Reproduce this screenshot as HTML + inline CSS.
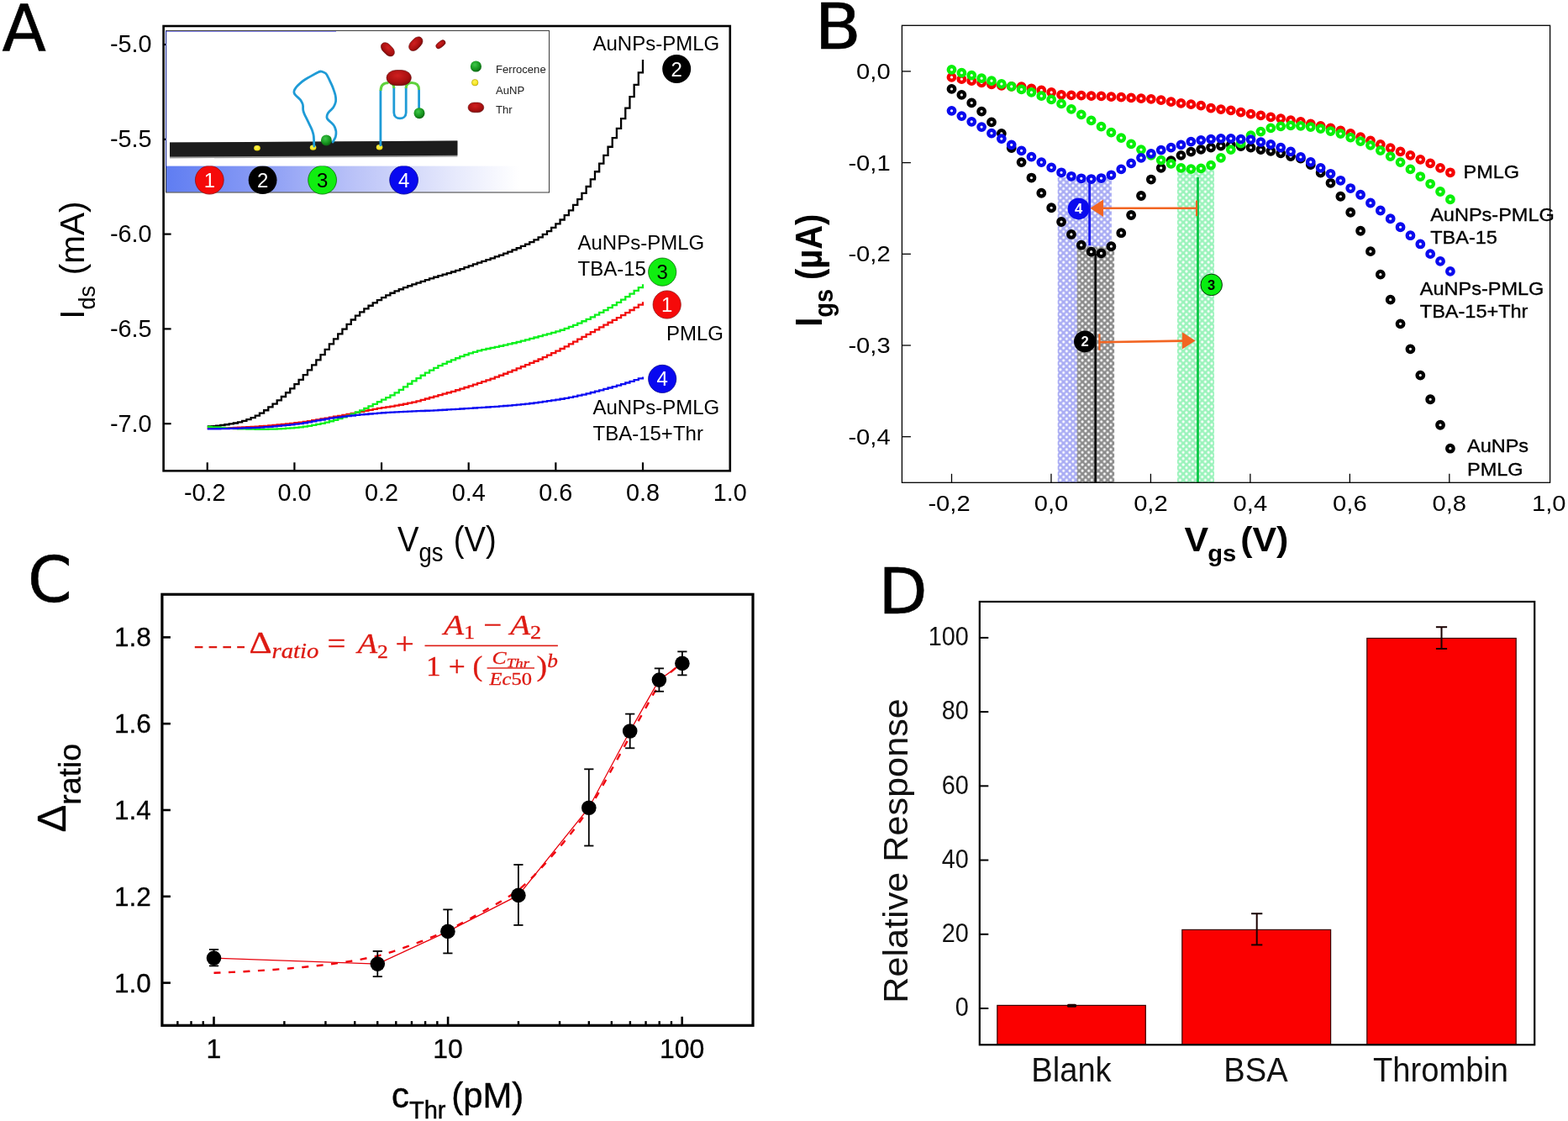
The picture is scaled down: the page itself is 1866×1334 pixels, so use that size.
<!DOCTYPE html>
<html lang="en"><head><meta charset="utf-8"><title>Figure</title>
<style>
html,body{margin:0;padding:0;background:#fff;}
body{width:1866px;height:1334px;overflow:hidden;}
svg{display:block;}
text{white-space:pre;}
</style></head><body>
<svg width="1866" height="1334" viewBox="0 0 1866 1334">
<defs>
<linearGradient id="gband" x1="0" y1="0" x2="1" y2="0"><stop offset="0" stop-color="#5f7df2"/><stop offset="0.25" stop-color="#8a9cf5"/><stop offset="0.5" stop-color="#bcc4f8"/><stop offset="0.75" stop-color="#e6e9fc"/><stop offset="0.92" stop-color="#ffffff"/></linearGradient>
<radialGradient id="gsph" cx="0.4" cy="0.35" r="0.7"><stop offset="0" stop-color="#3fc84a"/><stop offset="0.6" stop-color="#17961f"/><stop offset="1" stop-color="#0b5e12"/></radialGradient>
<radialGradient id="gthr" cx="0.45" cy="0.35" r="0.75"><stop offset="0" stop-color="#d02020"/><stop offset="0.6" stop-color="#a81010"/><stop offset="1" stop-color="#6e0808"/></radialGradient>
<radialGradient id="gau" cx="0.45" cy="0.4" r="0.7"><stop offset="0" stop-color="#fff35a"/><stop offset="0.7" stop-color="#f2e21a"/><stop offset="1" stop-color="#b8a800"/></radialGradient>
<clipPath id="cband"><rect x="197" y="197.6" width="460" height="40"/></clipPath>
<pattern id="hb" width="7.5" height="7.3" patternUnits="userSpaceOnUse"><rect width="7.5" height="7.3" fill="#a9acf4"/><circle cx="1.9" cy="1.8" r="1.55" fill="#fff"/><circle cx="5.65" cy="5.45" r="1.55" fill="#fff"/></pattern>
<pattern id="hk" width="7.5" height="7.3" patternUnits="userSpaceOnUse"><rect width="7.5" height="7.3" fill="#8c8c8c"/><circle cx="1.9" cy="1.8" r="1.55" fill="#fff"/><circle cx="5.65" cy="5.45" r="1.55" fill="#fff"/></pattern>
<pattern id="hg" width="7.5" height="7.3" patternUnits="userSpaceOnUse"><rect width="7.5" height="7.3" fill="#9af3bb"/><circle cx="1.9" cy="1.8" r="1.55" fill="#fff"/><circle cx="5.65" cy="5.45" r="1.55" fill="#fff"/></pattern>
</defs>
<rect x="0" y="0" width="1866" height="1334" fill="#ffffff"/>
<g id="panelA">
<text transform="translate(2.5 60.4)" font-family='"DejaVu Sans", "Liberation Sans", sans-serif' font-size="76.5" text-anchor="start" font-weight="normal" font-style="normal" fill="#000" stroke="#000" stroke-width="0.6">A</text>
<path d="M246.75 507.3H251.93V507.09H257.11V506.64H262.3V506.02H267.48V505.27H272.66V504.44H277.84V503.51H283.03V502.3H288.21V500.8H293.39V499.04H298.57V497.06H303.76V494.71H308.94V491.71H314.12V488.24H319.3V484.46H324.49V480.56H329.67V476.47H334.85V472.01H340.03V467.27H345.22V462.31H350.4V457.2H355.58V451.84H360.76V446.19H365.95V440.35H371.13V434.4H376.31V428.41H381.5V422.19H386.68V415.82H391.86V409.47H397.04V403.31H402.22V397.45H407.41V391.61H412.59V385.9H417.77V380.51H422.95V375.62H428.14V371.32H433.32V367.38H438.5V363.74H443.68V360.34H448.87V357.14H454.05V354.11H459.23V351.29H464.41V348.73H469.6V346.42H474.78V344.25H479.96V342.2H485.14V340.25H490.33V338.38H495.51V336.57H500.69V334.8H505.88V333.04H511.06V331.34H516.24V329.74H521.42V328.18H526.61V326.65H531.79V325.1H536.97V323.5H542.15V321.82H547.33V320.04H552.52V318.2H557.7V316.33H562.88V314.47H568.06V312.65H573.25V310.87H578.43V309.11H583.61V307.32H588.79V305.47H593.98V303.55H599.16V301.58H604.34V299.55H609.52V297.44H614.71V295.23H619.89V292.92H625.07V290.55H630.25V288.04H635.44V285.32H640.62V282.31H645.8V278.91H650.99V275.1H656.17V270.9H661.35V266.36H666.53V261.49H671.72V256.17H676.9V250.31H682.08V243.97H687.26V237.18H692.44V229.95H697.63V222.01H702.81V213.38H707.99V204.24H713.17V194.72H718.36V184.94H723.54V174.75H728.72V164.08H733.9V152.9H739.09V141.17H744.27V128.66H749.45V115.08H754.63V100.95H759.82V86.29H765V71" fill="none" stroke="#000000" stroke-width="2.3" stroke-linejoin="miter"/>
<path d="M246.75 509.8H251.93V509.73H257.11V509.61H262.3V509.47H267.48V509.3H272.66V509.1H277.84V508.89H283.03V508.65H288.21V508.4H293.39V508.13H298.57V507.86H303.76V507.57H308.94V507.23H314.12V506.84H319.3V506.42H324.49V505.96H329.67V505.46H334.85V504.94H340.03V504.38H345.22V503.81H350.4V503.22H355.58V502.57H360.76V501.85H365.95V501.08H371.13V500.25H376.31V499.38H381.5V498.49H386.68V497.58H391.86V496.66H397.04V495.75H402.22V494.84H407.41V493.88H412.59V492.89H417.77V491.87H422.95V490.83H428.14V489.8H433.32V488.77H438.5V487.78H443.68V486.82H448.87V485.92H454.05V485.1H459.23V484.35H464.41V483.56H469.6V482.68H474.78V481.74H479.96V480.74H485.14V479.68H490.33V478.55H495.51V477.31H500.69V475.93H505.88V474.48H511.06V472.99H516.24V471.53H521.42V470.11H526.61V468.69H531.79V467.26H536.97V465.78H542.15V464.25H547.33V462.66H552.52V461.02H557.7V459.34H562.88V457.64H568.06V455.91H573.25V454.17H578.43V452.4H583.61V450.58H588.79V448.72H593.98V446.77H599.16V444.75H604.34V442.66H609.52V440.53H614.71V438.39H619.89V436.26H625.07V434.13H630.25V431.97H635.44V429.76H640.62V427.48H645.8V425.12H650.99V422.7H656.17V420.21H661.35V417.65H666.53V415.02H671.72V412.28H676.9V409.44H682.08V406.55H687.26V403.65H692.44V400.8H697.63V397.96H702.81V395.13H707.99V392.29H713.17V389.45H718.36V386.6H723.54V383.77H728.72V380.94H733.9V378.07H739.09V375.13H744.27V372.11H749.45V369.01H754.63V365.85H759.82V362.62H765V359.33" fill="none" stroke="#f20d0d" stroke-width="2.3" stroke-linejoin="miter"/>
<path d="M246.75 507.79H251.93V508.31H257.11V508.77H262.3V509.18H267.48V509.53H272.66V509.83H277.84V510.09H283.03V510.3H288.21V510.47H293.39V510.61H298.57V510.7H303.76V510.76H308.94V510.8H314.12V510.79H319.3V510.71H324.49V510.55H329.67V510.31H334.85V510.03H340.03V509.69H345.22V509.33H350.4V508.95H355.58V508.42H360.76V507.71H365.95V506.87H371.13V505.94H376.31V504.97H381.5V503.86H386.68V502.61H391.86V501.23H397.04V499.76H402.22V498.19H407.41V496.46H412.59V494.58H417.77V492.58H422.95V490.48H428.14V488.28H433.32V485.91H438.5V483.41H443.68V480.85H448.87V478.26H454.05V475.72H459.23V473.14H464.41V470.39H469.6V467.34H474.78V463.94H479.96V460.36H485.14V456.77H490.33V453.33H495.51V450.04H500.69V446.77H505.88V443.59H511.06V440.56H516.24V437.78H521.42V435.21H526.61V432.78H531.79V430.49H536.97V428.32H542.15V426.25H547.33V424.22H552.52V422.27H557.7V420.44H562.88V418.79H568.06V417.36H573.25V416.13H578.43V415.02H583.61V413.96H588.79V412.88H593.98V411.73H599.16V410.58H604.34V409.42H609.52V408.23H614.71V406.99H619.89V405.69H625.07V404.32H630.25V402.91H635.44V401.48H640.62V400.05H645.8V398.66H650.99V397.29H656.17V395.89H661.35V394.4H666.53V392.76H671.72V390.92H676.9V388.93H682.08V386.79H687.26V384.56H692.44V382.26H697.63V379.85H702.81V377.31H707.99V374.67H713.17V371.92H718.36V369.09H723.54V366.13H728.72V363.05H733.9V359.85H739.09V356.55H744.27V353.13H749.45V349.58H754.63V345.89H759.82V342.08H765V338.15" fill="none" stroke="#0cf01c" stroke-width="2.3" stroke-linejoin="miter"/>
<path d="M246.75 510.3H251.93V510.28H257.11V510.23H262.3V510.15H267.48V510.05H272.66V509.92H277.84V509.77H283.03V509.6H288.21V509.43H293.39V509.24H298.57V509.04H303.76V508.82H308.94V508.54H314.12V508.2H319.3V507.81H324.49V507.37H329.67V506.9H334.85V506.39H340.03V505.85H345.22V505.29H350.4V504.72H355.58V504.05H360.76V503.26H365.95V502.38H371.13V501.44H376.31V500.47H381.5V499.5H386.68V498.57H391.86V497.7H397.04V496.93H402.22V496.28H407.41V495.66H412.59V495.07H417.77V494.51H422.95V493.97H428.14V493.46H433.32V492.98H438.5V492.51H443.68V492.07H448.87V491.66H454.05V491.27H459.23V490.91H464.41V490.59H469.6V490.31H474.78V490.06H479.96V489.82H485.14V489.61H490.33V489.4H495.51V489.2H500.69V488.99H505.88V488.77H511.06V488.54H516.24V488.29H521.42V488.02H526.61V487.74H531.79V487.44H536.97V487.14H542.15V486.83H547.33V486.51H552.52V486.18H557.7V485.85H562.88V485.51H568.06V485.16H573.25V484.82H578.43V484.48H583.61V484.13H588.79V483.78H593.98V483.41H599.16V483.02H604.34V482.61H609.52V482.18H614.71V481.71H619.89V481.2H625.07V480.62H630.25V479.98H635.44V479.31H640.62V478.62H645.8V477.93H650.99V477.2H656.17V476.44H661.35V475.63H666.53V474.77H671.72V473.84H676.9V472.85H682.08V471.79H687.26V470.68H692.44V469.53H697.63V468.3H702.81V467.01H707.99V465.67H713.17V464.3H718.36V462.92H723.54V461.52H728.72V460.09H733.9V458.62H739.09V457.09H744.27V455.49H749.45V453.83H754.63V452.1H759.82V450.32H765V448.47" fill="none" stroke="#0d0df2" stroke-width="2.3" stroke-linejoin="miter"/>
<rect x="194.6" y="31" width="674.2" height="529.3" fill="none" stroke="#000" stroke-width="2.6" />
<line x1="194.6" y1="53" x2="203.6" y2="53" stroke="#000" stroke-width="2.2" />
<text transform="translate(180.6 62.3)" font-family='"Liberation Sans", Arial, Helvetica, sans-serif' font-size="28.8" text-anchor="end" font-weight="normal" font-style="normal" fill="#000" >-5.0</text>
<line x1="194.6" y1="165.8" x2="203.6" y2="165.8" stroke="#000" stroke-width="2.2" />
<text transform="translate(180.6 175.1)" font-family='"Liberation Sans", Arial, Helvetica, sans-serif' font-size="28.8" text-anchor="end" font-weight="normal" font-style="normal" fill="#000" >-5.5</text>
<line x1="194.6" y1="278.6" x2="203.6" y2="278.6" stroke="#000" stroke-width="2.2" />
<text transform="translate(180.6 287.9)" font-family='"Liberation Sans", Arial, Helvetica, sans-serif' font-size="28.8" text-anchor="end" font-weight="normal" font-style="normal" fill="#000" >-6.0</text>
<line x1="194.6" y1="391.4" x2="203.6" y2="391.4" stroke="#000" stroke-width="2.2" />
<text transform="translate(180.6 400.7)" font-family='"Liberation Sans", Arial, Helvetica, sans-serif' font-size="28.8" text-anchor="end" font-weight="normal" font-style="normal" fill="#000" >-6.5</text>
<line x1="194.6" y1="504.2" x2="203.6" y2="504.2" stroke="#000" stroke-width="2.2" />
<text transform="translate(180.6 513.5)" font-family='"Liberation Sans", Arial, Helvetica, sans-serif' font-size="28.8" text-anchor="end" font-weight="normal" font-style="normal" fill="#000" >-7.0</text>
<line x1="246.75" y1="560.3" x2="246.75" y2="550.3" stroke="#000" stroke-width="2.2" />
<text transform="translate(243.75 595.6)" font-family='"Liberation Sans", Arial, Helvetica, sans-serif' font-size="28.8" text-anchor="middle" font-weight="normal" font-style="normal" fill="#000" >-0.2</text>
<line x1="350.4" y1="560.3" x2="350.4" y2="550.3" stroke="#000" stroke-width="2.2" />
<text transform="translate(350.4 595.6)" font-family='"Liberation Sans", Arial, Helvetica, sans-serif' font-size="28.8" text-anchor="middle" font-weight="normal" font-style="normal" fill="#000" >0.0</text>
<line x1="454.05" y1="560.3" x2="454.05" y2="550.3" stroke="#000" stroke-width="2.2" />
<text transform="translate(454.05 595.6)" font-family='"Liberation Sans", Arial, Helvetica, sans-serif' font-size="28.8" text-anchor="middle" font-weight="normal" font-style="normal" fill="#000" >0.2</text>
<line x1="557.7" y1="560.3" x2="557.7" y2="550.3" stroke="#000" stroke-width="2.2" />
<text transform="translate(557.7 595.6)" font-family='"Liberation Sans", Arial, Helvetica, sans-serif' font-size="28.8" text-anchor="middle" font-weight="normal" font-style="normal" fill="#000" >0.4</text>
<line x1="661.35" y1="560.3" x2="661.35" y2="550.3" stroke="#000" stroke-width="2.2" />
<text transform="translate(661.35 595.6)" font-family='"Liberation Sans", Arial, Helvetica, sans-serif' font-size="28.8" text-anchor="middle" font-weight="normal" font-style="normal" fill="#000" >0.6</text>
<line x1="765" y1="560.3" x2="765" y2="550.3" stroke="#000" stroke-width="2.2" />
<text transform="translate(765 595.6)" font-family='"Liberation Sans", Arial, Helvetica, sans-serif' font-size="28.8" text-anchor="middle" font-weight="normal" font-style="normal" fill="#000" >0.8</text>
<text transform="translate(868.65 595.6)" font-family='"Liberation Sans", Arial, Helvetica, sans-serif' font-size="28.8" text-anchor="middle" font-weight="normal" font-style="normal" fill="#000" >1.0</text>
<text transform="translate(473 655.8) scale(0.885 1)" font-family='"Liberation Sans", Arial, Helvetica, sans-serif' font-size="43.2" fill="#000">V<tspan font-size="31" dy="12.5">gs</tspan><tspan dy="-12.5" dx="2"> (V)</tspan></text>
<text transform="translate(100.3 379.8) rotate(-90)" font-family='"Liberation Sans", Arial, Helvetica, sans-serif' font-size="40.5" fill="#000">I<tspan font-size="27" dy="13">ds</tspan><tspan dy="-13" dx="1.5"> (mA)</tspan></text>
<text transform="translate(705.5 60)" font-family='"Liberation Sans", Arial, Helvetica, sans-serif' font-size="24" text-anchor="start" font-weight="normal" font-style="normal" fill="#000" >AuNPs-PMLG</text>
<text transform="translate(687.5 297.3)" font-family='"Liberation Sans", Arial, Helvetica, sans-serif' font-size="24" text-anchor="start" font-weight="normal" font-style="normal" fill="#000" >AuNPs-PMLG</text>
<text transform="translate(687.5 327.8)" font-family='"Liberation Sans", Arial, Helvetica, sans-serif' font-size="24" text-anchor="start" font-weight="normal" font-style="normal" fill="#000" >TBA-15</text>
<text transform="translate(793 405)" font-family='"Liberation Sans", Arial, Helvetica, sans-serif' font-size="24" text-anchor="start" font-weight="normal" font-style="normal" fill="#000" >PMLG</text>
<text transform="translate(705.5 492.8)" font-family='"Liberation Sans", Arial, Helvetica, sans-serif' font-size="24" text-anchor="start" font-weight="normal" font-style="normal" fill="#000" >AuNPs-PMLG</text>
<text transform="translate(705.5 524)" font-family='"Liberation Sans", Arial, Helvetica, sans-serif' font-size="24" text-anchor="start" font-weight="normal" font-style="normal" fill="#000" >TBA-15+Thr</text>
<circle cx="805.2" cy="82" r="17" fill="#000000" stroke="none" stroke-width="1" />
<text transform="translate(805.2 90.52)" font-family='"Liberation Sans", Arial, Helvetica, sans-serif' font-size="24" text-anchor="middle" font-weight="normal" font-style="normal" fill="#fff" >2</text>
<circle cx="788.2" cy="323.6" r="16.6" fill="#10ee10" stroke="#0a6a0a" stroke-width="0.8" />
<text transform="translate(788.2 332.12)" font-family='"Liberation Sans", Arial, Helvetica, sans-serif' font-size="24" text-anchor="middle" font-weight="normal" font-style="normal" fill="#000" >3</text>
<circle cx="793.7" cy="362.5" r="16.6" fill="#f50a0a" stroke="#901010" stroke-width="0.8" />
<text transform="translate(793.7 371.02)" font-family='"Liberation Sans", Arial, Helvetica, sans-serif' font-size="24" text-anchor="middle" font-weight="normal" font-style="normal" fill="#fff" >1</text>
<circle cx="788.2" cy="450.9" r="16.6" fill="#0808f0" stroke="#0a0a90" stroke-width="0.8" />
<text transform="translate(788.2 459.42)" font-family='"Liberation Sans", Arial, Helvetica, sans-serif' font-size="24" text-anchor="middle" font-weight="normal" font-style="normal" fill="#fff" >4</text>
<rect x="197.6" y="36.6" width="456" height="192.4" fill="#ffffff" stroke="none" stroke-width="1" />
<rect x="197.6" y="197.6" width="456" height="31" fill="url(#gband)" stroke="none" stroke-width="1" />
<rect x="197.6" y="36.6" width="456" height="192.4" fill="none" stroke="#222" stroke-width="0.9" />
<line x1="197.6" y1="37.5" x2="400" y2="37.5" stroke="#8a8af0" stroke-width="1" />
<line x1="197.6" y1="36.6" x2="197.6" y2="200" stroke="#2233aa" stroke-width="1" />
<path d="M202 169.6 L544.4 167.6 L544.4 186.6 L202 188.4 Z" fill="#9a9a9a" stroke="none" stroke-width="1" />
<path d="M202 169.6 L544.4 167.6 L544.4 184.8 L202 186.6 Z" fill="#1c1c1c" stroke="none" stroke-width="1" />
<ellipse cx="306" cy="176.2" rx="3.8" ry="3.2" fill="url(#gau)"/>
<ellipse cx="372.6" cy="175.6" rx="3.8" ry="3.2" fill="url(#gau)"/>
<ellipse cx="451.6" cy="175.2" rx="3.8" ry="3.2" fill="url(#gau)"/>
<path d="M373.8 174 L373.53 165.57 Q373.4 161.6 372.73 159.23 L371.97 156.57 Q371.3 154.2 369.99 151.54 L368.51 148.56 Q367.2 145.9 365.63 142.73 L363.87 139.17 Q362.3 136 361.76 134.43 L361.14 132.67 Q360.6 131.1 360.6 128.99 L360.6 126.61 Q360.6 124.5 359.67 122.64 L358.63 120.56 Q357.7 118.7 355.33 116.59 L352.67 114.21 Q350.3 112.1 350.11 110.79 L349.89 109.31 Q349.7 108 350.95 106.14 L352.35 104.06 Q353.6 102.2 356.38 99.83 L359.52 97.17 Q362.3 94.8 365.72 92.94 L369.58 90.86 Q373 89 375.62 87.56 L378.58 85.94 Q381.2 84.5 383.31 85.3 L385.69 86.2 Q387.8 87 388.86 88.95 L390.04 91.15 Q391.1 93.1 392.7 96.56 L394.5 100.44 Q396.1 103.9 397.16 107.07 L398.34 110.63 Q399.4 113.8 399.53 116.17 L399.67 118.83 Q399.8 121.2 398.87 123.31 L397.83 125.69 Q396.9 127.8 394.53 130.17 L391.87 132.83 Q389.5 135.2 389.24 137.06 L388.96 139.14 Q388.7 141 391.58 143.62 L394.82 146.58 Q397.7 149.2 398.5 151.57 L399.4 154.23 Q400.2 156.6 399.94 158.71 L399.66 161.09 Q399.4 163.2 398.34 165.06 L396.1 169" fill="none" stroke="#1f9bd6" stroke-width="2.8" stroke-linejoin="round" stroke-linecap="round"/>
<circle cx="388.4" cy="166.9" r="6.5" fill="url(#gsph)" stroke="none" stroke-width="1" />
<path d="M452.9 174 V107.5" fill="none" stroke="#1f9bd6" stroke-width="2.8" />
<path d="M453 108 C453 101 457 98.6 462.5 98.6" fill="none" stroke="#5fd23c" stroke-width="3" />
<path d="M468.8 104 V134 C468.8 143.2 483.2 143.2 483.2 134 V104" fill="none" stroke="#1f9bd6" stroke-width="2.8" />
<path d="M464 98.8 C467.2 99 468.8 101.5 468.8 105" fill="none" stroke="#5fd23c" stroke-width="3" />
<path d="M483.2 105 C483.2 100.5 485.5 98.4 490 98.4 C496 98.4 498.6 101.5 498.6 107" fill="none" stroke="#5fd23c" stroke-width="3" />
<path d="M498.6 107 V130" fill="none" stroke="#1f9bd6" stroke-width="2.8" />
<circle cx="499" cy="134.7" r="6.5" fill="url(#gsph)" stroke="none" stroke-width="1" />
<rect x="460" y="83.5" width="29.4" height="18.2" rx="11.5" ry="9.1" fill="url(#gthr)" stroke="#5a0606" stroke-width="0.6"/>
<rect x="-9.6" y="-5.5" width="19.2" height="11" rx="7.2" ry="5.5" transform="translate(461.4 58.8) rotate(46)" fill="url(#gthr)" stroke="#5a0606" stroke-width="0.5"/>
<rect x="-9.8" y="-5.7" width="19.6" height="11.4" rx="7.4" ry="5.7" transform="translate(494.8 52.2) rotate(-46)" fill="url(#gthr)" stroke="#5a0606" stroke-width="0.5"/>
<rect x="-6.4" y="-3.3" width="12.8" height="6.6" rx="4.6" ry="3.3" transform="translate(524.4 52.8) rotate(-38)" fill="url(#gthr)" stroke="#5a0606" stroke-width="0.5"/>
<circle cx="566.4" cy="79" r="6.6" fill="url(#gsph)" stroke="none" stroke-width="1" />
<circle cx="565.2" cy="98.2" r="3.8" fill="url(#gau)" stroke="#a09000" stroke-width="0.5" />
<rect x="557" y="122" width="18.8" height="11.8" rx="7" ry="5.9" fill="url(#gthr)" stroke="#5a0606" stroke-width="0.5"/>
<text transform="translate(590 87.4)" font-family='"Liberation Sans", Arial, Helvetica, sans-serif' font-size="13.1" text-anchor="start" font-weight="normal" font-style="normal" fill="#222" >Ferrocene</text>
<text transform="translate(590 111.8)" font-family='"Liberation Sans", Arial, Helvetica, sans-serif' font-size="13.1" text-anchor="start" font-weight="normal" font-style="normal" fill="#222" >AuNP</text>
<text transform="translate(590 135.4)" font-family='"Liberation Sans", Arial, Helvetica, sans-serif' font-size="13.1" text-anchor="start" font-weight="normal" font-style="normal" fill="#222" >Thr</text>
<g clip-path="url(#cband)">
<circle cx="249.3" cy="214.2" r="16.9" fill="#f50a0a" stroke="#901010" stroke-width="0.8" />
<text transform="translate(249.3 222.72)" font-family='"Liberation Sans", Arial, Helvetica, sans-serif' font-size="24" text-anchor="middle" font-weight="normal" font-style="normal" fill="#fff" >1</text>
<circle cx="312.6" cy="214.2" r="16.9" fill="#000000" stroke="none" stroke-width="1" />
<text transform="translate(312.6 222.72)" font-family='"Liberation Sans", Arial, Helvetica, sans-serif' font-size="24" text-anchor="middle" font-weight="normal" font-style="normal" fill="#fff" >2</text>
<circle cx="383.6" cy="214.2" r="16.9" fill="#10ee10" stroke="#0a6a0a" stroke-width="0.8" />
<text transform="translate(383.6 222.72)" font-family='"Liberation Sans", Arial, Helvetica, sans-serif' font-size="24" text-anchor="middle" font-weight="normal" font-style="normal" fill="#000" >3</text>
<circle cx="480.6" cy="214.2" r="16.9" fill="#0808f0" stroke="#0a0a90" stroke-width="0.8" />
<text transform="translate(480.6 222.72)" font-family='"Liberation Sans", Arial, Helvetica, sans-serif' font-size="24" text-anchor="middle" font-weight="normal" font-style="normal" fill="#fff" >4</text>
</g>
</g>
<g id="panelB">
<text transform="translate(969.5 57.6) scale(1.07 1)" font-family='"DejaVu Sans", "Liberation Sans", sans-serif' font-size="75.5" text-anchor="start" font-weight="normal" font-style="normal" fill="#000" stroke="#000" stroke-width="0.6">B</text>
<rect x="1258.7" y="211" width="64.2" height="363.3" fill="url(#hb)" stroke="none" stroke-width="1" />
<rect x="1281.6" y="293.5" width="44.5" height="280.8" fill="url(#hk)" stroke="none" stroke-width="1" />
<rect x="1401" y="200" width="44" height="374.3" fill="url(#hg)" stroke="none" stroke-width="1" />
<line x1="1296.6" y1="217" x2="1296.6" y2="292" stroke="#1a1aee" stroke-width="2.8" />
<line x1="1303.6" y1="302" x2="1303.6" y2="574.3" stroke="#000" stroke-width="2.5" />
<line x1="1425.5" y1="211" x2="1425.5" y2="574.3" stroke="#0ac846" stroke-width="2.8" />
<circle cx="1132.5" cy="91.91" r="3.75" fill="#fff" stroke="#f50000" stroke-width="4.3" />
<circle cx="1144.37" cy="94.16" r="3.75" fill="#fff" stroke="#f50000" stroke-width="4.3" />
<circle cx="1156.24" cy="96.15" r="3.75" fill="#fff" stroke="#f50000" stroke-width="4.3" />
<circle cx="1168.1" cy="98.4" r="3.75" fill="#fff" stroke="#f50000" stroke-width="4.3" />
<circle cx="1179.97" cy="100.4" r="3.75" fill="#fff" stroke="#f50000" stroke-width="4.3" />
<circle cx="1191.84" cy="101.9" r="3.75" fill="#fff" stroke="#f50000" stroke-width="4.3" />
<circle cx="1203.71" cy="102.9" r="3.75" fill="#fff" stroke="#f50000" stroke-width="4.3" />
<circle cx="1215.58" cy="103.15" r="3.75" fill="#fff" stroke="#f50000" stroke-width="4.3" />
<circle cx="1227.44" cy="105.39" r="3.75" fill="#fff" stroke="#f50000" stroke-width="4.3" />
<circle cx="1239.31" cy="107.39" r="3.75" fill="#fff" stroke="#f50000" stroke-width="4.3" />
<circle cx="1251.18" cy="109.89" r="3.75" fill="#fff" stroke="#f50000" stroke-width="4.3" />
<circle cx="1263.05" cy="112.89" r="3.75" fill="#fff" stroke="#f50000" stroke-width="4.3" />
<circle cx="1274.92" cy="113.39" r="3.75" fill="#fff" stroke="#f50000" stroke-width="4.3" />
<circle cx="1286.78" cy="113.64" r="3.75" fill="#fff" stroke="#f50000" stroke-width="4.3" />
<circle cx="1298.65" cy="114.14" r="3.75" fill="#fff" stroke="#f50000" stroke-width="4.3" />
<circle cx="1310.52" cy="114.39" r="3.75" fill="#fff" stroke="#f50000" stroke-width="4.3" />
<circle cx="1322.39" cy="115.13" r="3.75" fill="#fff" stroke="#f50000" stroke-width="4.3" />
<circle cx="1334.26" cy="115.63" r="3.75" fill="#fff" stroke="#f50000" stroke-width="4.3" />
<circle cx="1346.12" cy="116.38" r="3.75" fill="#fff" stroke="#f50000" stroke-width="4.3" />
<circle cx="1357.99" cy="117.13" r="3.75" fill="#fff" stroke="#f50000" stroke-width="4.3" />
<circle cx="1369.86" cy="117.88" r="3.75" fill="#fff" stroke="#f50000" stroke-width="4.3" />
<circle cx="1381.73" cy="119.13" r="3.75" fill="#fff" stroke="#f50000" stroke-width="4.3" />
<circle cx="1393.6" cy="121.13" r="3.75" fill="#fff" stroke="#f50000" stroke-width="4.3" />
<circle cx="1405.46" cy="122.88" r="3.75" fill="#fff" stroke="#f50000" stroke-width="4.3" />
<circle cx="1417.33" cy="124.13" r="3.75" fill="#fff" stroke="#f50000" stroke-width="4.3" />
<circle cx="1429.2" cy="125.62" r="3.75" fill="#fff" stroke="#f50000" stroke-width="4.3" />
<circle cx="1441.07" cy="128.62" r="3.75" fill="#fff" stroke="#f50000" stroke-width="4.3" />
<circle cx="1452.94" cy="130.12" r="3.75" fill="#fff" stroke="#f50000" stroke-width="4.3" />
<circle cx="1464.8" cy="131.37" r="3.75" fill="#fff" stroke="#f50000" stroke-width="4.3" />
<circle cx="1476.67" cy="133.62" r="3.75" fill="#fff" stroke="#f50000" stroke-width="4.3" />
<circle cx="1488.54" cy="135.61" r="3.75" fill="#fff" stroke="#f50000" stroke-width="4.3" />
<circle cx="1500.41" cy="137.36" r="3.75" fill="#fff" stroke="#f50000" stroke-width="4.3" />
<circle cx="1512.28" cy="139.36" r="3.75" fill="#fff" stroke="#f50000" stroke-width="4.3" />
<circle cx="1524.14" cy="141.11" r="3.75" fill="#fff" stroke="#f50000" stroke-width="4.3" />
<circle cx="1536.01" cy="143.11" r="3.75" fill="#fff" stroke="#f50000" stroke-width="4.3" />
<circle cx="1547.88" cy="144.86" r="3.75" fill="#fff" stroke="#f50000" stroke-width="4.3" />
<circle cx="1559.75" cy="147.35" r="3.75" fill="#fff" stroke="#f50000" stroke-width="4.3" />
<circle cx="1571.62" cy="149.85" r="3.75" fill="#fff" stroke="#f50000" stroke-width="4.3" />
<circle cx="1583.48" cy="152.35" r="3.75" fill="#fff" stroke="#f50000" stroke-width="4.3" />
<circle cx="1595.35" cy="155.34" r="3.75" fill="#fff" stroke="#f50000" stroke-width="4.3" />
<circle cx="1607.22" cy="158.84" r="3.75" fill="#fff" stroke="#f50000" stroke-width="4.3" />
<circle cx="1619.09" cy="163.09" r="3.75" fill="#fff" stroke="#f50000" stroke-width="4.3" />
<circle cx="1630.96" cy="167.33" r="3.75" fill="#fff" stroke="#f50000" stroke-width="4.3" />
<circle cx="1642.82" cy="171.83" r="3.75" fill="#fff" stroke="#f50000" stroke-width="4.3" />
<circle cx="1654.69" cy="176.07" r="3.75" fill="#fff" stroke="#f50000" stroke-width="4.3" />
<circle cx="1666.56" cy="180.32" r="3.75" fill="#fff" stroke="#f50000" stroke-width="4.3" />
<circle cx="1678.43" cy="184.82" r="3.75" fill="#fff" stroke="#f50000" stroke-width="4.3" />
<circle cx="1690.3" cy="189.81" r="3.75" fill="#fff" stroke="#f50000" stroke-width="4.3" />
<circle cx="1702.16" cy="194.31" r="3.75" fill="#fff" stroke="#f50000" stroke-width="4.3" />
<circle cx="1714.03" cy="199.8" r="3.75" fill="#fff" stroke="#f50000" stroke-width="4.3" />
<circle cx="1725.9" cy="205.29" r="3.75" fill="#fff" stroke="#f50000" stroke-width="4.3" />
<circle cx="1132.5" cy="105.89" r="3.75" fill="#fff" stroke="#000000" stroke-width="4.3" />
<circle cx="1144.37" cy="112.89" r="3.75" fill="#fff" stroke="#000000" stroke-width="4.3" />
<circle cx="1156.24" cy="122.38" r="3.75" fill="#fff" stroke="#000000" stroke-width="4.3" />
<circle cx="1168.1" cy="132.62" r="3.75" fill="#fff" stroke="#000000" stroke-width="4.3" />
<circle cx="1179.97" cy="145.35" r="3.75" fill="#fff" stroke="#000000" stroke-width="4.3" />
<circle cx="1191.84" cy="158.84" r="3.75" fill="#fff" stroke="#000000" stroke-width="4.3" />
<circle cx="1203.71" cy="176.07" r="3.75" fill="#fff" stroke="#000000" stroke-width="4.3" />
<circle cx="1215.58" cy="193.06" r="3.75" fill="#fff" stroke="#000000" stroke-width="4.3" />
<circle cx="1227.44" cy="211.54" r="3.75" fill="#fff" stroke="#000000" stroke-width="4.3" />
<circle cx="1239.31" cy="229.77" r="3.75" fill="#fff" stroke="#000000" stroke-width="4.3" />
<circle cx="1251.18" cy="247.25" r="3.75" fill="#fff" stroke="#000000" stroke-width="4.3" />
<circle cx="1263.05" cy="263.99" r="3.75" fill="#fff" stroke="#000000" stroke-width="4.3" />
<circle cx="1274.92" cy="278.97" r="3.75" fill="#fff" stroke="#000000" stroke-width="4.3" />
<circle cx="1286.78" cy="291.71" r="3.75" fill="#fff" stroke="#000000" stroke-width="4.3" />
<circle cx="1298.65" cy="299.7" r="3.75" fill="#fff" stroke="#000000" stroke-width="4.3" />
<circle cx="1310.52" cy="301.45" r="3.75" fill="#fff" stroke="#000000" stroke-width="4.3" />
<circle cx="1322.39" cy="293.21" r="3.75" fill="#fff" stroke="#000000" stroke-width="4.3" />
<circle cx="1334.26" cy="277.22" r="3.75" fill="#fff" stroke="#000000" stroke-width="4.3" />
<circle cx="1346.12" cy="255.99" r="3.75" fill="#fff" stroke="#000000" stroke-width="4.3" />
<circle cx="1357.99" cy="233.02" r="3.75" fill="#fff" stroke="#000000" stroke-width="4.3" />
<circle cx="1369.86" cy="213.54" r="3.75" fill="#fff" stroke="#000000" stroke-width="4.3" />
<circle cx="1381.73" cy="199.8" r="3.75" fill="#fff" stroke="#000000" stroke-width="4.3" />
<circle cx="1393.6" cy="191.06" r="3.75" fill="#fff" stroke="#000000" stroke-width="4.3" />
<circle cx="1405.46" cy="184.82" r="3.75" fill="#fff" stroke="#000000" stroke-width="4.3" />
<circle cx="1417.33" cy="180.57" r="3.75" fill="#fff" stroke="#000000" stroke-width="4.3" />
<circle cx="1429.2" cy="177.82" r="3.75" fill="#fff" stroke="#000000" stroke-width="4.3" />
<circle cx="1441.07" cy="175.57" r="3.75" fill="#fff" stroke="#000000" stroke-width="4.3" />
<circle cx="1452.94" cy="173.58" r="3.75" fill="#fff" stroke="#000000" stroke-width="4.3" />
<circle cx="1464.8" cy="172.33" r="3.75" fill="#fff" stroke="#000000" stroke-width="4.3" />
<circle cx="1476.67" cy="174.08" r="3.75" fill="#fff" stroke="#000000" stroke-width="4.3" />
<circle cx="1488.54" cy="175.57" r="3.75" fill="#fff" stroke="#000000" stroke-width="4.3" />
<circle cx="1500.41" cy="178.07" r="3.75" fill="#fff" stroke="#000000" stroke-width="4.3" />
<circle cx="1512.28" cy="179.82" r="3.75" fill="#fff" stroke="#000000" stroke-width="4.3" />
<circle cx="1524.14" cy="182.32" r="3.75" fill="#fff" stroke="#000000" stroke-width="4.3" />
<circle cx="1536.01" cy="186.06" r="3.75" fill="#fff" stroke="#000000" stroke-width="4.3" />
<circle cx="1547.88" cy="188.56" r="3.75" fill="#fff" stroke="#000000" stroke-width="4.3" />
<circle cx="1559.75" cy="196.05" r="3.75" fill="#fff" stroke="#000000" stroke-width="4.3" />
<circle cx="1571.62" cy="205.54" r="3.75" fill="#fff" stroke="#000000" stroke-width="4.3" />
<circle cx="1583.48" cy="217.78" r="3.75" fill="#fff" stroke="#000000" stroke-width="4.3" />
<circle cx="1595.35" cy="233.77" r="3.75" fill="#fff" stroke="#000000" stroke-width="4.3" />
<circle cx="1607.22" cy="252.75" r="3.75" fill="#fff" stroke="#000000" stroke-width="4.3" />
<circle cx="1619.09" cy="274.73" r="3.75" fill="#fff" stroke="#000000" stroke-width="4.3" />
<circle cx="1630.96" cy="299.2" r="3.75" fill="#fff" stroke="#000000" stroke-width="4.3" />
<circle cx="1642.82" cy="326.67" r="3.75" fill="#fff" stroke="#000000" stroke-width="4.3" />
<circle cx="1654.69" cy="356.64" r="3.75" fill="#fff" stroke="#000000" stroke-width="4.3" />
<circle cx="1666.56" cy="385.36" r="3.75" fill="#fff" stroke="#000000" stroke-width="4.3" />
<circle cx="1678.43" cy="415.33" r="3.75" fill="#fff" stroke="#000000" stroke-width="4.3" />
<circle cx="1690.3" cy="446.55" r="3.75" fill="#fff" stroke="#000000" stroke-width="4.3" />
<circle cx="1702.16" cy="475.27" r="3.75" fill="#fff" stroke="#000000" stroke-width="4.3" />
<circle cx="1714.03" cy="505.74" r="3.75" fill="#fff" stroke="#000000" stroke-width="4.3" />
<circle cx="1725.9" cy="533.72" r="3.75" fill="#fff" stroke="#000000" stroke-width="4.3" />
<circle cx="1132.5" cy="82.92" r="3.75" fill="#fff" stroke="#08f008" stroke-width="4.3" />
<circle cx="1144.37" cy="86.66" r="3.75" fill="#fff" stroke="#08f008" stroke-width="4.3" />
<circle cx="1156.24" cy="89.66" r="3.75" fill="#fff" stroke="#08f008" stroke-width="4.3" />
<circle cx="1168.1" cy="93.16" r="3.75" fill="#fff" stroke="#08f008" stroke-width="4.3" />
<circle cx="1179.97" cy="96.15" r="3.75" fill="#fff" stroke="#08f008" stroke-width="4.3" />
<circle cx="1191.84" cy="99.9" r="3.75" fill="#fff" stroke="#08f008" stroke-width="4.3" />
<circle cx="1203.71" cy="102.9" r="3.75" fill="#fff" stroke="#08f008" stroke-width="4.3" />
<circle cx="1215.58" cy="106.39" r="3.75" fill="#fff" stroke="#08f008" stroke-width="4.3" />
<circle cx="1227.44" cy="109.89" r="3.75" fill="#fff" stroke="#08f008" stroke-width="4.3" />
<circle cx="1239.31" cy="114.14" r="3.75" fill="#fff" stroke="#08f008" stroke-width="4.3" />
<circle cx="1251.18" cy="118.38" r="3.75" fill="#fff" stroke="#08f008" stroke-width="4.3" />
<circle cx="1263.05" cy="123.38" r="3.75" fill="#fff" stroke="#08f008" stroke-width="4.3" />
<circle cx="1274.92" cy="129.87" r="3.75" fill="#fff" stroke="#08f008" stroke-width="4.3" />
<circle cx="1286.78" cy="136.36" r="3.75" fill="#fff" stroke="#08f008" stroke-width="4.3" />
<circle cx="1298.65" cy="143.36" r="3.75" fill="#fff" stroke="#08f008" stroke-width="4.3" />
<circle cx="1310.52" cy="150.6" r="3.75" fill="#fff" stroke="#08f008" stroke-width="4.3" />
<circle cx="1322.39" cy="157.59" r="3.75" fill="#fff" stroke="#08f008" stroke-width="4.3" />
<circle cx="1334.26" cy="164.09" r="3.75" fill="#fff" stroke="#08f008" stroke-width="4.3" />
<circle cx="1346.12" cy="171.33" r="3.75" fill="#fff" stroke="#08f008" stroke-width="4.3" />
<circle cx="1357.99" cy="178.07" r="3.75" fill="#fff" stroke="#08f008" stroke-width="4.3" />
<circle cx="1369.86" cy="184.82" r="3.75" fill="#fff" stroke="#08f008" stroke-width="4.3" />
<circle cx="1381.73" cy="190.56" r="3.75" fill="#fff" stroke="#08f008" stroke-width="4.3" />
<circle cx="1393.6" cy="194.81" r="3.75" fill="#fff" stroke="#08f008" stroke-width="4.3" />
<circle cx="1405.46" cy="199.8" r="3.75" fill="#fff" stroke="#08f008" stroke-width="4.3" />
<circle cx="1417.33" cy="201.05" r="3.75" fill="#fff" stroke="#08f008" stroke-width="4.3" />
<circle cx="1429.2" cy="200.3" r="3.75" fill="#fff" stroke="#08f008" stroke-width="4.3" />
<circle cx="1441.07" cy="196.55" r="3.75" fill="#fff" stroke="#08f008" stroke-width="4.3" />
<circle cx="1452.94" cy="187.81" r="3.75" fill="#fff" stroke="#08f008" stroke-width="4.3" />
<circle cx="1464.8" cy="178.07" r="3.75" fill="#fff" stroke="#08f008" stroke-width="4.3" />
<circle cx="1476.67" cy="170.58" r="3.75" fill="#fff" stroke="#08f008" stroke-width="4.3" />
<circle cx="1488.54" cy="161.09" r="3.75" fill="#fff" stroke="#08f008" stroke-width="4.3" />
<circle cx="1500.41" cy="156.59" r="3.75" fill="#fff" stroke="#08f008" stroke-width="4.3" />
<circle cx="1512.28" cy="152.35" r="3.75" fill="#fff" stroke="#08f008" stroke-width="4.3" />
<circle cx="1524.14" cy="150.35" r="3.75" fill="#fff" stroke="#08f008" stroke-width="4.3" />
<circle cx="1536.01" cy="149.35" r="3.75" fill="#fff" stroke="#08f008" stroke-width="4.3" />
<circle cx="1547.88" cy="149.85" r="3.75" fill="#fff" stroke="#08f008" stroke-width="4.3" />
<circle cx="1559.75" cy="151.1" r="3.75" fill="#fff" stroke="#08f008" stroke-width="4.3" />
<circle cx="1571.62" cy="153.1" r="3.75" fill="#fff" stroke="#08f008" stroke-width="4.3" />
<circle cx="1583.48" cy="156.09" r="3.75" fill="#fff" stroke="#08f008" stroke-width="4.3" />
<circle cx="1595.35" cy="159.09" r="3.75" fill="#fff" stroke="#08f008" stroke-width="4.3" />
<circle cx="1607.22" cy="163.59" r="3.75" fill="#fff" stroke="#08f008" stroke-width="4.3" />
<circle cx="1619.09" cy="168.08" r="3.75" fill="#fff" stroke="#08f008" stroke-width="4.3" />
<circle cx="1630.96" cy="172.83" r="3.75" fill="#fff" stroke="#08f008" stroke-width="4.3" />
<circle cx="1642.82" cy="179.07" r="3.75" fill="#fff" stroke="#08f008" stroke-width="4.3" />
<circle cx="1654.69" cy="186.06" r="3.75" fill="#fff" stroke="#08f008" stroke-width="4.3" />
<circle cx="1666.56" cy="193.06" r="3.75" fill="#fff" stroke="#08f008" stroke-width="4.3" />
<circle cx="1678.43" cy="201.3" r="3.75" fill="#fff" stroke="#08f008" stroke-width="4.3" />
<circle cx="1690.3" cy="210.04" r="3.75" fill="#fff" stroke="#08f008" stroke-width="4.3" />
<circle cx="1702.16" cy="218.78" r="3.75" fill="#fff" stroke="#08f008" stroke-width="4.3" />
<circle cx="1714.03" cy="228.02" r="3.75" fill="#fff" stroke="#08f008" stroke-width="4.3" />
<circle cx="1725.9" cy="237.26" r="3.75" fill="#fff" stroke="#08f008" stroke-width="4.3" />
<circle cx="1132.5" cy="131.87" r="3.75" fill="#fff" stroke="#0a0aee" stroke-width="4.3" />
<circle cx="1144.37" cy="138.11" r="3.75" fill="#fff" stroke="#0a0aee" stroke-width="4.3" />
<circle cx="1156.24" cy="144.86" r="3.75" fill="#fff" stroke="#0a0aee" stroke-width="4.3" />
<circle cx="1168.1" cy="151.1" r="3.75" fill="#fff" stroke="#0a0aee" stroke-width="4.3" />
<circle cx="1179.97" cy="158.59" r="3.75" fill="#fff" stroke="#0a0aee" stroke-width="4.3" />
<circle cx="1191.84" cy="165.08" r="3.75" fill="#fff" stroke="#0a0aee" stroke-width="4.3" />
<circle cx="1203.71" cy="172.33" r="3.75" fill="#fff" stroke="#0a0aee" stroke-width="4.3" />
<circle cx="1215.58" cy="179.32" r="3.75" fill="#fff" stroke="#0a0aee" stroke-width="4.3" />
<circle cx="1227.44" cy="186.56" r="3.75" fill="#fff" stroke="#0a0aee" stroke-width="4.3" />
<circle cx="1239.31" cy="193.06" r="3.75" fill="#fff" stroke="#0a0aee" stroke-width="4.3" />
<circle cx="1251.18" cy="199.3" r="3.75" fill="#fff" stroke="#0a0aee" stroke-width="4.3" />
<circle cx="1263.05" cy="205.29" r="3.75" fill="#fff" stroke="#0a0aee" stroke-width="4.3" />
<circle cx="1274.92" cy="209.79" r="3.75" fill="#fff" stroke="#0a0aee" stroke-width="4.3" />
<circle cx="1286.78" cy="212.29" r="3.75" fill="#fff" stroke="#0a0aee" stroke-width="4.3" />
<circle cx="1298.65" cy="213.04" r="3.75" fill="#fff" stroke="#0a0aee" stroke-width="4.3" />
<circle cx="1310.52" cy="212.04" r="3.75" fill="#fff" stroke="#0a0aee" stroke-width="4.3" />
<circle cx="1322.39" cy="208.29" r="3.75" fill="#fff" stroke="#0a0aee" stroke-width="4.3" />
<circle cx="1334.26" cy="201.3" r="3.75" fill="#fff" stroke="#0a0aee" stroke-width="4.3" />
<circle cx="1346.12" cy="194.31" r="3.75" fill="#fff" stroke="#0a0aee" stroke-width="4.3" />
<circle cx="1357.99" cy="187.81" r="3.75" fill="#fff" stroke="#0a0aee" stroke-width="4.3" />
<circle cx="1369.86" cy="182.82" r="3.75" fill="#fff" stroke="#0a0aee" stroke-width="4.3" />
<circle cx="1381.73" cy="178.57" r="3.75" fill="#fff" stroke="#0a0aee" stroke-width="4.3" />
<circle cx="1393.6" cy="175.57" r="3.75" fill="#fff" stroke="#0a0aee" stroke-width="4.3" />
<circle cx="1405.46" cy="172.33" r="3.75" fill="#fff" stroke="#0a0aee" stroke-width="4.3" />
<circle cx="1417.33" cy="168.58" r="3.75" fill="#fff" stroke="#0a0aee" stroke-width="4.3" />
<circle cx="1429.2" cy="166.83" r="3.75" fill="#fff" stroke="#0a0aee" stroke-width="4.3" />
<circle cx="1441.07" cy="165.58" r="3.75" fill="#fff" stroke="#0a0aee" stroke-width="4.3" />
<circle cx="1452.94" cy="164.84" r="3.75" fill="#fff" stroke="#0a0aee" stroke-width="4.3" />
<circle cx="1464.8" cy="164.84" r="3.75" fill="#fff" stroke="#0a0aee" stroke-width="4.3" />
<circle cx="1476.67" cy="165.58" r="3.75" fill="#fff" stroke="#0a0aee" stroke-width="4.3" />
<circle cx="1488.54" cy="166.08" r="3.75" fill="#fff" stroke="#0a0aee" stroke-width="4.3" />
<circle cx="1500.41" cy="169.08" r="3.75" fill="#fff" stroke="#0a0aee" stroke-width="4.3" />
<circle cx="1512.28" cy="171.83" r="3.75" fill="#fff" stroke="#0a0aee" stroke-width="4.3" />
<circle cx="1524.14" cy="175.57" r="3.75" fill="#fff" stroke="#0a0aee" stroke-width="4.3" />
<circle cx="1536.01" cy="180.32" r="3.75" fill="#fff" stroke="#0a0aee" stroke-width="4.3" />
<circle cx="1547.88" cy="186.81" r="3.75" fill="#fff" stroke="#0a0aee" stroke-width="4.3" />
<circle cx="1559.75" cy="192.81" r="3.75" fill="#fff" stroke="#0a0aee" stroke-width="4.3" />
<circle cx="1571.62" cy="199.8" r="3.75" fill="#fff" stroke="#0a0aee" stroke-width="4.3" />
<circle cx="1583.48" cy="206.79" r="3.75" fill="#fff" stroke="#0a0aee" stroke-width="4.3" />
<circle cx="1595.35" cy="214.79" r="3.75" fill="#fff" stroke="#0a0aee" stroke-width="4.3" />
<circle cx="1607.22" cy="224.03" r="3.75" fill="#fff" stroke="#0a0aee" stroke-width="4.3" />
<circle cx="1619.09" cy="231.77" r="3.75" fill="#fff" stroke="#0a0aee" stroke-width="4.3" />
<circle cx="1630.96" cy="241.51" r="3.75" fill="#fff" stroke="#0a0aee" stroke-width="4.3" />
<circle cx="1642.82" cy="250.5" r="3.75" fill="#fff" stroke="#0a0aee" stroke-width="4.3" />
<circle cx="1654.69" cy="260.24" r="3.75" fill="#fff" stroke="#0a0aee" stroke-width="4.3" />
<circle cx="1666.56" cy="270.23" r="3.75" fill="#fff" stroke="#0a0aee" stroke-width="4.3" />
<circle cx="1678.43" cy="280.22" r="3.75" fill="#fff" stroke="#0a0aee" stroke-width="4.3" />
<circle cx="1690.3" cy="290.46" r="3.75" fill="#fff" stroke="#0a0aee" stroke-width="4.3" />
<circle cx="1702.16" cy="302.2" r="3.75" fill="#fff" stroke="#0a0aee" stroke-width="4.3" />
<circle cx="1714.03" cy="310.94" r="3.75" fill="#fff" stroke="#0a0aee" stroke-width="4.3" />
<circle cx="1725.9" cy="322.93" r="3.75" fill="#fff" stroke="#0a0aee" stroke-width="4.3" />
<rect x="1073.4" y="30.3" width="771.2" height="544" fill="none" stroke="#000" stroke-width="1.3" />
<line x1="1073.4" y1="84.9" x2="1083.9" y2="84.9" stroke="#000" stroke-width="1.3" />
<text transform="translate(1059.6 93.9) scale(1.1 1)" font-family='"Liberation Sans", Arial, Helvetica, sans-serif' font-size="26.5" text-anchor="end" font-weight="normal" font-style="normal" fill="#000" >0,0</text>
<line x1="1073.4" y1="193.6" x2="1083.9" y2="193.6" stroke="#000" stroke-width="1.3" />
<text transform="translate(1059.6 202.6) scale(1.1 1)" font-family='"Liberation Sans", Arial, Helvetica, sans-serif' font-size="26.5" text-anchor="end" font-weight="normal" font-style="normal" fill="#000" >-0,1</text>
<line x1="1073.4" y1="302.3" x2="1083.9" y2="302.3" stroke="#000" stroke-width="1.3" />
<text transform="translate(1059.6 311.3) scale(1.1 1)" font-family='"Liberation Sans", Arial, Helvetica, sans-serif' font-size="26.5" text-anchor="end" font-weight="normal" font-style="normal" fill="#000" >-0,2</text>
<line x1="1073.4" y1="411" x2="1083.9" y2="411" stroke="#000" stroke-width="1.3" />
<text transform="translate(1059.6 420) scale(1.1 1)" font-family='"Liberation Sans", Arial, Helvetica, sans-serif' font-size="26.5" text-anchor="end" font-weight="normal" font-style="normal" fill="#000" >-0,3</text>
<line x1="1073.4" y1="519.7" x2="1083.9" y2="519.7" stroke="#000" stroke-width="1.3" />
<text transform="translate(1059.6 528.7) scale(1.1 1)" font-family='"Liberation Sans", Arial, Helvetica, sans-serif' font-size="26.5" text-anchor="end" font-weight="normal" font-style="normal" fill="#000" >-0,4</text>
<line x1="1132.5" y1="574.3" x2="1132.5" y2="563.8" stroke="#000" stroke-width="1.3" />
<text transform="translate(1129.5 607.8) scale(1.1 1)" font-family='"Liberation Sans", Arial, Helvetica, sans-serif' font-size="26.5" text-anchor="middle" font-weight="normal" font-style="normal" fill="#000" >-0,2</text>
<line x1="1250.96" y1="574.3" x2="1250.96" y2="563.8" stroke="#000" stroke-width="1.3" />
<text transform="translate(1250.96 607.8) scale(1.1 1)" font-family='"Liberation Sans", Arial, Helvetica, sans-serif' font-size="26.5" text-anchor="middle" font-weight="normal" font-style="normal" fill="#000" >0,0</text>
<line x1="1369.42" y1="574.3" x2="1369.42" y2="563.8" stroke="#000" stroke-width="1.3" />
<text transform="translate(1369.42 607.8) scale(1.1 1)" font-family='"Liberation Sans", Arial, Helvetica, sans-serif' font-size="26.5" text-anchor="middle" font-weight="normal" font-style="normal" fill="#000" >0,2</text>
<line x1="1487.88" y1="574.3" x2="1487.88" y2="563.8" stroke="#000" stroke-width="1.3" />
<text transform="translate(1487.88 607.8) scale(1.1 1)" font-family='"Liberation Sans", Arial, Helvetica, sans-serif' font-size="26.5" text-anchor="middle" font-weight="normal" font-style="normal" fill="#000" >0,4</text>
<line x1="1606.34" y1="574.3" x2="1606.34" y2="563.8" stroke="#000" stroke-width="1.3" />
<text transform="translate(1606.34 607.8) scale(1.1 1)" font-family='"Liberation Sans", Arial, Helvetica, sans-serif' font-size="26.5" text-anchor="middle" font-weight="normal" font-style="normal" fill="#000" >0,6</text>
<line x1="1724.8" y1="574.3" x2="1724.8" y2="563.8" stroke="#000" stroke-width="1.3" />
<text transform="translate(1724.8 607.8) scale(1.1 1)" font-family='"Liberation Sans", Arial, Helvetica, sans-serif' font-size="26.5" text-anchor="middle" font-weight="normal" font-style="normal" fill="#000" >0,8</text>
<text transform="translate(1843.26 607.8) scale(1.1 1)" font-family='"Liberation Sans", Arial, Helvetica, sans-serif' font-size="26.5" text-anchor="middle" font-weight="normal" font-style="normal" fill="#000" >1,0</text>
<text transform="translate(1409.6 655.8) scale(1.06 1)" font-family='"Liberation Sans", Arial, Helvetica, sans-serif' font-size="40.5" font-weight="bold" fill="#000">V<tspan font-size="27.5" dy="12" dx="-1">gs</tspan><tspan dy="-12" dx="-6.5"> (V)</tspan></text>
<text transform="translate(977.7 388.8) rotate(-90) scale(0.905 1)" font-family='"Liberation Sans", Arial, Helvetica, sans-serif' font-size="44" font-weight="bold" fill="#000">I<tspan font-size="32" dy="13">gs</tspan><tspan dy="-13"> (µA)</tspan></text>
<line x1="1310" y1="247.8" x2="1424" y2="247.8" stroke="#f26522" stroke-width="2.6" />
<line x1="1424" y1="238.5" x2="1424" y2="257.2" stroke="#f26522" stroke-width="2.1" />
<path d="M1297.3 247.8 L1313 237.6 L1313 258 Z" fill="#f26522" stroke="none" stroke-width="1" />
<line x1="1308.4" y1="407.2" x2="1408" y2="405.6" stroke="#f26522" stroke-width="2.6" />
<line x1="1308.4" y1="397.4" x2="1308.4" y2="416.8" stroke="#f26522" stroke-width="2.1" />
<path d="M1422.6 405.4 L1406.8 395.2 L1406.8 415.6 Z" fill="#f26522" stroke="none" stroke-width="1" />
<circle cx="1283.6" cy="248.4" r="13" fill="#0a0aee" stroke="none" stroke-width="1" />
<text transform="translate(1283.6 254.26)" font-family='"Liberation Sans", Arial, Helvetica, sans-serif' font-size="16.5" text-anchor="middle" font-weight="bold" font-style="normal" fill="#fff" >4</text>
<circle cx="1291" cy="406.4" r="13" fill="#000" stroke="none" stroke-width="1" />
<text transform="translate(1291 412.26)" font-family='"Liberation Sans", Arial, Helvetica, sans-serif' font-size="16.5" text-anchor="middle" font-weight="bold" font-style="normal" fill="#fff" >2</text>
<circle cx="1441.7" cy="338.9" r="12.8" fill="#08ee10" stroke="#000" stroke-width="0.8" />
<text transform="translate(1441.7 344.76)" font-family='"Liberation Sans", Arial, Helvetica, sans-serif' font-size="16.5" text-anchor="middle" font-weight="bold" font-style="normal" fill="#000" >3</text>
<text transform="translate(1741.5 212.3) scale(1.04 1)" font-family='"Liberation Sans", Arial, Helvetica, sans-serif' font-size="22.6" text-anchor="start" font-weight="normal" font-style="normal" fill="#000" stroke="#000" stroke-width="0.35">PMLG</text>
<text transform="translate(1702.2 262.8) scale(1.04 1)" font-family='"Liberation Sans", Arial, Helvetica, sans-serif' font-size="22.6" text-anchor="start" font-weight="normal" font-style="normal" fill="#000" stroke="#000" stroke-width="0.35">AuNPs-PMLG</text>
<text transform="translate(1702.2 290.3) scale(1.04 1)" font-family='"Liberation Sans", Arial, Helvetica, sans-serif' font-size="22.6" text-anchor="start" font-weight="normal" font-style="normal" fill="#000" stroke="#000" stroke-width="0.35">TBA-15</text>
<text transform="translate(1689.8 350.5) scale(1.04 1)" font-family='"Liberation Sans", Arial, Helvetica, sans-serif' font-size="22.6" text-anchor="start" font-weight="normal" font-style="normal" fill="#000" stroke="#000" stroke-width="0.35">AuNPs-PMLG</text>
<text transform="translate(1689.8 378) scale(1.04 1)" font-family='"Liberation Sans", Arial, Helvetica, sans-serif' font-size="22.6" text-anchor="start" font-weight="normal" font-style="normal" fill="#000" stroke="#000" stroke-width="0.35">TBA-15+Thr</text>
<text transform="translate(1746 537.8) scale(1.04 1)" font-family='"Liberation Sans", Arial, Helvetica, sans-serif' font-size="22.6" text-anchor="start" font-weight="normal" font-style="normal" fill="#000" stroke="#000" stroke-width="0.35">AuNPs</text>
<text transform="translate(1746 565.8) scale(1.04 1)" font-family='"Liberation Sans", Arial, Helvetica, sans-serif' font-size="22.6" text-anchor="start" font-weight="normal" font-style="normal" fill="#000" stroke="#000" stroke-width="0.35">PMLG</text>
</g>
<g id="panelC">
<text transform="translate(33 716)" font-family='"DejaVu Sans", "Liberation Sans", sans-serif' font-size="75.5" text-anchor="start" font-weight="normal" font-style="normal" fill="#000" stroke="#000" stroke-width="0.6">C</text>
<path d="M254.5 1157.8 L261.56 1157.53 L268.61 1157.23 L275.67 1156.9 L282.72 1156.55 L289.78 1156.18 L296.83 1155.78 L303.89 1155.37 L310.95 1154.92 L318 1154.44 L325.06 1153.93 L332.11 1153.39 L339.17 1152.82 L346.22 1152.23 L353.28 1151.61 L360.34 1150.96 L367.39 1150.27 L374.45 1149.53 L381.5 1148.76 L388.56 1147.92 L395.61 1147.03 L402.67 1146.08 L409.73 1145.04 L416.78 1143.92 L423.84 1142.71 L430.89 1141.41 L437.95 1140 L445 1138.48 L452.06 1136.83 L459.12 1134.92 L466.17 1132.77 L473.23 1130.44 L480.28 1127.98 L487.34 1125.46 L494.39 1122.9 L501.45 1120.22 L508.51 1117.42 L515.56 1114.49 L522.62 1111.45 L529.67 1108.29 L536.73 1104.99 L543.78 1101.5 L550.84 1097.85 L557.89 1094.05 L564.95 1090.16 L572.01 1086.19 L579.06 1082.22 L586.12 1078.32 L593.17 1074.37 L600.23 1070.24 L607.28 1065.8 L614.34 1060.91 L621.4 1055.39 L628.45 1049.08 L635.51 1042.1 L642.56 1034.62 L649.62 1026.8 L656.67 1018.79 L663.73 1010.72 L670.79 1002.4 L677.84 993.76 L684.9 984.71 L691.95 975.2 L699.01 965.15 L706.06 954.25 L713.12 942.2 L720.18 929.61 L727.23 917.03 L734.29 904.24 L741.34 891.27 L748.4 878.36 L755.45 865.61 L762.51 852.95 L769.57 840.39 L776.62 827.42 L783.68 815.99 L790.73 807.31 L797.79 800.2 L804.84 794.08 L811.9 789" fill="none" stroke="#f0000c" stroke-width="2.4" stroke-dasharray="8 9.5"/>
<path d="M254.5 1140.1 L449.3 1147.1 L532.9 1108.4 L616.9 1065.4 L700.8 961.2 L749.7 870 L784.4 809.1 L811.9 789.4" fill="none" stroke="#e8000b" stroke-width="1.3" />
<line x1="254.5" y1="1129.9" x2="254.5" y2="1149.4" stroke="#000" stroke-width="1.8" />
<line x1="248.9" y1="1129.9" x2="260.1" y2="1129.9" stroke="#000" stroke-width="1.8" />
<line x1="248.9" y1="1149.4" x2="260.1" y2="1149.4" stroke="#000" stroke-width="1.8" />
<circle cx="254.5" cy="1140.1" r="8.8" fill="#000" stroke="none" stroke-width="1" />
<line x1="449.3" y1="1131.9" x2="449.3" y2="1162.1" stroke="#000" stroke-width="1.8" />
<line x1="443.7" y1="1131.9" x2="454.9" y2="1131.9" stroke="#000" stroke-width="1.8" />
<line x1="443.7" y1="1162.1" x2="454.9" y2="1162.1" stroke="#000" stroke-width="1.8" />
<circle cx="449.3" cy="1147.1" r="8.8" fill="#000" stroke="none" stroke-width="1" />
<line x1="532.9" y1="1082.4" x2="532.9" y2="1134.4" stroke="#000" stroke-width="1.8" />
<line x1="527.3" y1="1082.4" x2="538.5" y2="1082.4" stroke="#000" stroke-width="1.8" />
<line x1="527.3" y1="1134.4" x2="538.5" y2="1134.4" stroke="#000" stroke-width="1.8" />
<circle cx="532.9" cy="1108.4" r="8.8" fill="#000" stroke="none" stroke-width="1" />
<line x1="616.9" y1="1029" x2="616.9" y2="1100.9" stroke="#000" stroke-width="1.8" />
<line x1="611.3" y1="1029" x2="622.5" y2="1029" stroke="#000" stroke-width="1.8" />
<line x1="611.3" y1="1100.9" x2="622.5" y2="1100.9" stroke="#000" stroke-width="1.8" />
<circle cx="616.9" cy="1065.4" r="8.8" fill="#000" stroke="none" stroke-width="1" />
<line x1="700.8" y1="915.3" x2="700.8" y2="1006.5" stroke="#000" stroke-width="1.8" />
<line x1="695.2" y1="915.3" x2="706.4" y2="915.3" stroke="#000" stroke-width="1.8" />
<line x1="695.2" y1="1006.5" x2="706.4" y2="1006.5" stroke="#000" stroke-width="1.8" />
<circle cx="700.8" cy="961.2" r="8.8" fill="#000" stroke="none" stroke-width="1" />
<line x1="749.7" y1="849.6" x2="749.7" y2="890.3" stroke="#000" stroke-width="1.8" />
<line x1="744.1" y1="849.6" x2="755.3" y2="849.6" stroke="#000" stroke-width="1.8" />
<line x1="744.1" y1="890.3" x2="755.3" y2="890.3" stroke="#000" stroke-width="1.8" />
<circle cx="749.7" cy="870" r="8.8" fill="#000" stroke="none" stroke-width="1" />
<line x1="784.4" y1="795.4" x2="784.4" y2="822.8" stroke="#000" stroke-width="1.8" />
<line x1="778.8" y1="795.4" x2="790" y2="795.4" stroke="#000" stroke-width="1.8" />
<line x1="778.8" y1="822.8" x2="790" y2="822.8" stroke="#000" stroke-width="1.8" />
<circle cx="784.4" cy="809.1" r="8.8" fill="#000" stroke="none" stroke-width="1" />
<line x1="811.9" y1="775.4" x2="811.9" y2="803.4" stroke="#000" stroke-width="1.8" />
<line x1="806.3" y1="775.4" x2="817.5" y2="775.4" stroke="#000" stroke-width="1.8" />
<line x1="806.3" y1="803.4" x2="817.5" y2="803.4" stroke="#000" stroke-width="1.8" />
<circle cx="811.9" cy="789.4" r="8.8" fill="#000" stroke="none" stroke-width="1" />
<rect x="192.9" y="707.3" width="703.1" height="513" fill="none" stroke="#000" stroke-width="3.2" />
<line x1="192.9" y1="758.4" x2="202.9" y2="758.4" stroke="#000" stroke-width="2.6" />
<text transform="translate(179.8 769.3)" font-family='"Liberation Sans", Arial, Helvetica, sans-serif' font-size="31.5" text-anchor="end" font-weight="normal" font-style="normal" fill="#000" stroke="#000" stroke-width="0.3">1.8</text>
<line x1="192.9" y1="861.2" x2="202.9" y2="861.2" stroke="#000" stroke-width="2.6" />
<text transform="translate(179.8 872.1)" font-family='"Liberation Sans", Arial, Helvetica, sans-serif' font-size="31.5" text-anchor="end" font-weight="normal" font-style="normal" fill="#000" stroke="#000" stroke-width="0.3">1.6</text>
<line x1="192.9" y1="964" x2="202.9" y2="964" stroke="#000" stroke-width="2.6" />
<text transform="translate(179.8 974.9)" font-family='"Liberation Sans", Arial, Helvetica, sans-serif' font-size="31.5" text-anchor="end" font-weight="normal" font-style="normal" fill="#000" stroke="#000" stroke-width="0.3">1.4</text>
<line x1="192.9" y1="1066.8" x2="202.9" y2="1066.8" stroke="#000" stroke-width="2.6" />
<text transform="translate(179.8 1077.7)" font-family='"Liberation Sans", Arial, Helvetica, sans-serif' font-size="31.5" text-anchor="end" font-weight="normal" font-style="normal" fill="#000" stroke="#000" stroke-width="0.3">1.2</text>
<line x1="192.9" y1="1169.6" x2="202.9" y2="1169.6" stroke="#000" stroke-width="2.6" />
<text transform="translate(179.8 1180.5)" font-family='"Liberation Sans", Arial, Helvetica, sans-serif' font-size="31.5" text-anchor="end" font-weight="normal" font-style="normal" fill="#000" stroke="#000" stroke-width="0.3">1.0</text>
<line x1="254.5" y1="1220.3" x2="254.5" y2="1209.8" stroke="#000" stroke-width="2.6" />
<text transform="translate(254.5 1258.8)" font-family='"Liberation Sans", Arial, Helvetica, sans-serif' font-size="32" text-anchor="middle" font-weight="normal" font-style="normal" fill="#000" stroke="#000" stroke-width="0.3">1</text>
<line x1="533.1" y1="1220.3" x2="533.1" y2="1209.8" stroke="#000" stroke-width="2.6" />
<text transform="translate(533.1 1258.8)" font-family='"Liberation Sans", Arial, Helvetica, sans-serif' font-size="32" text-anchor="middle" font-weight="normal" font-style="normal" fill="#000" stroke="#000" stroke-width="0.3">10</text>
<line x1="811.7" y1="1220.3" x2="811.7" y2="1209.8" stroke="#000" stroke-width="2.6" />
<text transform="translate(811.7 1258.8)" font-family='"Liberation Sans", Arial, Helvetica, sans-serif' font-size="32" text-anchor="middle" font-weight="normal" font-style="normal" fill="#000" stroke="#000" stroke-width="0.3">100</text>
<line x1="211.34" y1="1220.3" x2="211.34" y2="1215.1" stroke="#000" stroke-width="2.4" />
<line x1="227.5" y1="1220.3" x2="227.5" y2="1215.1" stroke="#000" stroke-width="2.4" />
<line x1="241.75" y1="1220.3" x2="241.75" y2="1215.1" stroke="#000" stroke-width="2.4" />
<line x1="338.37" y1="1220.3" x2="338.37" y2="1215.1" stroke="#000" stroke-width="2.4" />
<line x1="387.43" y1="1220.3" x2="387.43" y2="1215.1" stroke="#000" stroke-width="2.4" />
<line x1="422.23" y1="1220.3" x2="422.23" y2="1215.1" stroke="#000" stroke-width="2.4" />
<line x1="449.23" y1="1220.3" x2="449.23" y2="1215.1" stroke="#000" stroke-width="2.4" />
<line x1="471.29" y1="1220.3" x2="471.29" y2="1215.1" stroke="#000" stroke-width="2.4" />
<line x1="489.94" y1="1220.3" x2="489.94" y2="1215.1" stroke="#000" stroke-width="2.4" />
<line x1="506.1" y1="1220.3" x2="506.1" y2="1215.1" stroke="#000" stroke-width="2.4" />
<line x1="520.35" y1="1220.3" x2="520.35" y2="1215.1" stroke="#000" stroke-width="2.4" />
<line x1="616.97" y1="1220.3" x2="616.97" y2="1215.1" stroke="#000" stroke-width="2.4" />
<line x1="666.03" y1="1220.3" x2="666.03" y2="1215.1" stroke="#000" stroke-width="2.4" />
<line x1="700.83" y1="1220.3" x2="700.83" y2="1215.1" stroke="#000" stroke-width="2.4" />
<line x1="727.83" y1="1220.3" x2="727.83" y2="1215.1" stroke="#000" stroke-width="2.4" />
<line x1="749.89" y1="1220.3" x2="749.89" y2="1215.1" stroke="#000" stroke-width="2.4" />
<line x1="768.54" y1="1220.3" x2="768.54" y2="1215.1" stroke="#000" stroke-width="2.4" />
<line x1="784.7" y1="1220.3" x2="784.7" y2="1215.1" stroke="#000" stroke-width="2.4" />
<line x1="798.95" y1="1220.3" x2="798.95" y2="1215.1" stroke="#000" stroke-width="2.4" />
<text transform="translate(466 1317.9) scale(0.985 1)" font-family='"Liberation Sans", Arial, Helvetica, sans-serif' font-size="42.5" fill="#000" stroke="#000" stroke-width="0.4">c<tspan font-size="29.5" dy="13">Thr</tspan><tspan dy="-13" dx="-5"> (pM)</tspan></text>
<text transform="translate(77.6 990.5) rotate(-90)" font-family='"Liberation Sans", Arial, Helvetica, sans-serif' font-size="49" fill="#000" stroke="#000" stroke-width="0.3">Δ<tspan font-size="37.5" dy="18">ratio</tspan></text>
<line x1="231.8" y1="770.2" x2="291" y2="770.2" stroke="#dd1a12" stroke-width="2.3" stroke-dasharray="9.6 7.2"/>
<g font-family='"Liberation Serif", "Times New Roman", serif' fill="#dd1a12" stroke="#dd1a12" stroke-width="0.3"><text transform="translate(296.5 777) scale(1.17 1)" font-size="36" text-anchor="start" font-style="normal">Δ<tspan font-style="italic" font-size="24.5" dy="5.5">ratio</tspan></text><text transform="translate(389.5 777.5) scale(1.08 1)" font-size="36" text-anchor="start" font-style="normal">=</text><text transform="translate(425.5 777) scale(1.12 1)" font-size="34.5" text-anchor="start" font-style="italic">A<tspan font-style="normal" font-size="23" dy="5.5">2</tspan></text><text transform="translate(470.5 778) scale(1.1 1)" font-size="36" text-anchor="start" font-style="normal">+</text><text transform="translate(586 754.8) scale(1.14 1)" font-size="34.5" text-anchor="middle" font-style="normal"><tspan font-style="italic">A</tspan><tspan font-size="23" dy="5.5">1</tspan><tspan dy="-5.5"> − </tspan><tspan font-style="italic">A</tspan><tspan font-size="23" dy="5.5">2</tspan></text><rect x="505.5" y="767.6" width="158.4" height="1.6" stroke="none"/><text transform="translate(507 803.5) scale(1.03 1)" font-size="34.5" text-anchor="start" font-style="normal">1 + (</text><text transform="translate(607.8 790.4) scale(1.22 1)" font-size="21" text-anchor="middle" font-style="italic">C<tspan font-size="15.5" dy="3.5">Thr</tspan></text><rect x="579.6" y="794.3" width="56.4" height="1.4" stroke="none"/><text transform="translate(607.8 815.4) scale(1.17 1)" font-size="21" text-anchor="middle" font-style="normal"><tspan font-style="italic">Ec</tspan>50</text><text transform="translate(638.5 803.5) scale(1.1 1)" font-size="34.5" text-anchor="start" font-style="normal">)<tspan font-style="italic" font-size="23" dy="-10">b</tspan></text></g>
</g>
<g id="panelD">
<text transform="translate(1045.5 730.4)" font-family='"DejaVu Sans", "Liberation Sans", sans-serif' font-size="75.5" text-anchor="start" font-weight="normal" font-style="normal" fill="#000" stroke="#000" stroke-width="0.6">D</text>
<rect x="1186.8" y="1196.4" width="176.5" height="46.9" fill="#fb0000" stroke="#3a0000" stroke-width="1.2" />
<rect x="1406.8" y="1106.4" width="176.8" height="136.9" fill="#fb0000" stroke="#3a0000" stroke-width="1.2" />
<rect x="1626.8" y="759.5" width="177.4" height="483.8" fill="#fb0000" stroke="#3a0000" stroke-width="1.2" />
<line x1="1715.5" y1="746.2" x2="1715.5" y2="772" stroke="#1a0000" stroke-width="2" />
<line x1="1708.9" y1="746.2" x2="1722.1" y2="746.2" stroke="#1a0000" stroke-width="2" />
<line x1="1708.9" y1="772" x2="1722.1" y2="772" stroke="#1a0000" stroke-width="2" />
<line x1="1495.7" y1="1087.2" x2="1495.7" y2="1124.4" stroke="#1a0000" stroke-width="2" />
<line x1="1489.1" y1="1087.2" x2="1502.3" y2="1087.2" stroke="#1a0000" stroke-width="2" />
<line x1="1489.1" y1="1124.4" x2="1502.3" y2="1124.4" stroke="#1a0000" stroke-width="2" />
<rect x="1270" y="1194.8" width="11" height="4" fill="#1a0000" stroke="none" stroke-width="1" rx="1.5"/>
<rect x="1165.8" y="716" width="660.4" height="527.3" fill="none" stroke="#000" stroke-width="2.2" />
<line x1="1165.8" y1="758.9" x2="1176.3" y2="758.9" stroke="#000" stroke-width="2" />
<text transform="translate(1152.8 768.1) scale(0.93 1)" font-family='"Liberation Sans", Arial, Helvetica, sans-serif' font-size="31" text-anchor="end" font-weight="normal" font-style="normal" fill="#111" >100</text>
<line x1="1165.8" y1="847.12" x2="1176.3" y2="847.12" stroke="#000" stroke-width="2" />
<text transform="translate(1152.8 856.32) scale(0.93 1)" font-family='"Liberation Sans", Arial, Helvetica, sans-serif' font-size="31" text-anchor="end" font-weight="normal" font-style="normal" fill="#111" >80</text>
<line x1="1165.8" y1="935.34" x2="1176.3" y2="935.34" stroke="#000" stroke-width="2" />
<text transform="translate(1152.8 944.54) scale(0.93 1)" font-family='"Liberation Sans", Arial, Helvetica, sans-serif' font-size="31" text-anchor="end" font-weight="normal" font-style="normal" fill="#111" >60</text>
<line x1="1165.8" y1="1023.56" x2="1176.3" y2="1023.56" stroke="#000" stroke-width="2" />
<text transform="translate(1152.8 1032.76) scale(0.93 1)" font-family='"Liberation Sans", Arial, Helvetica, sans-serif' font-size="31" text-anchor="end" font-weight="normal" font-style="normal" fill="#111" >40</text>
<line x1="1165.8" y1="1111.78" x2="1176.3" y2="1111.78" stroke="#000" stroke-width="2" />
<text transform="translate(1152.8 1120.98) scale(0.93 1)" font-family='"Liberation Sans", Arial, Helvetica, sans-serif' font-size="31" text-anchor="end" font-weight="normal" font-style="normal" fill="#111" >20</text>
<line x1="1165.8" y1="1200" x2="1176.3" y2="1200" stroke="#000" stroke-width="2" />
<text transform="translate(1152.8 1209.2) scale(0.93 1)" font-family='"Liberation Sans", Arial, Helvetica, sans-serif' font-size="31" text-anchor="end" font-weight="normal" font-style="normal" fill="#111" >0</text>
<text transform="translate(1275 1286.8) scale(0.93 1)" font-family='"Liberation Sans", Arial, Helvetica, sans-serif' font-size="41" text-anchor="middle" font-weight="normal" font-style="normal" fill="#111" >Blank</text>
<text transform="translate(1494.5 1286.8) scale(0.93 1)" font-family='"Liberation Sans", Arial, Helvetica, sans-serif' font-size="41" text-anchor="middle" font-weight="normal" font-style="normal" fill="#111" >BSA</text>
<text transform="translate(1714.5 1286.8) scale(0.93 1)" font-family='"Liberation Sans", Arial, Helvetica, sans-serif' font-size="41" text-anchor="middle" font-weight="normal" font-style="normal" fill="#111" >Thrombin</text>
<text transform="translate(1079.6 1012.5) rotate(-90) scale(1.08 1)" font-family='"Liberation Sans", Arial, Helvetica, sans-serif' font-size="40" text-anchor="middle" font-weight="normal" font-style="normal" fill="#111" >Relative Response</text>
</g>
</svg>
</body></html>
